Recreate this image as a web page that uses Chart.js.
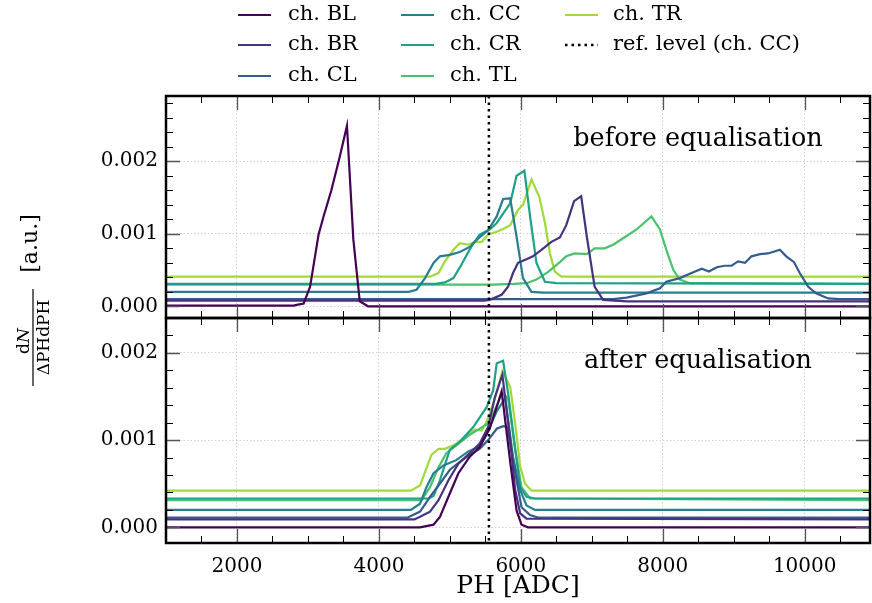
<!DOCTYPE html>
<html>
<head>
<meta charset="utf-8">
<script src="https://cdn.jsdelivr.net/npm/chart.js@4.4.1/dist/chart.umd.min.js"></script>
<style>
  html, body { margin: 0; padding: 0; background: #fff; }
</style>
</head>
<body>
<canvas id="phChart" width="872" height="603"></canvas>
<script>
// channel names, same order as the colours below
var channels = ['ch. BL', 'ch. BR', 'ch. CL', 'ch. CC', 'ch. CR', 'ch. TL', 'ch. TR'];
var refLabel = 'ref. level (ch. CC)';
var refLevel = 5550;

var xTicks = [2000, 4000, 6000, 8000, 10000];
var yTicks = [0, 0.001, 0.002];

// spectra before equalisation, [PH, dN/dPH]
var beforeBL = [[1000, 0.00001], [2800, 0.00001], [2840, 0.00002], [2940, 0.00004], [3030, 0.00027], [3150, 0.00099], [3220, 0.00124], [3330, 0.0016], [3450, 0.00207], [3550, 0.00249], [3640, 0.00092], [3730, 0.00007], [3850, 0.0], [10920, 0.0]];
var beforeBR = [[1000, 0.00008], [5480, 0.00008], [5560, 0.00009], [5730, 0.00016], [5820, 0.00027], [5890, 0.00046], [5960, 0.0006], [6080, 0.00065], [6170, 0.00069], [6290, 0.00078], [6430, 0.00089], [6550, 0.00095], [6640, 0.00112], [6750, 0.00145], [6850, 0.00152], [6930, 0.00096], [7040, 0.00027], [7160, 0.00009], [7500, 0.00007], [10920, 0.00007]];
var beforeCL = [[1000, 0.0001], [7300, 0.0001], [7490, 0.00012], [7770, 0.00018], [7960, 0.00025], [8050, 0.00034], [8240, 0.00039], [8430, 0.00047], [8550, 0.00052], [8650, 0.00048], [8760, 0.00054], [8870, 0.00056], [8970, 0.00056], [9060, 0.00062], [9160, 0.0006], [9250, 0.00069], [9370, 0.00072], [9480, 0.00073], [9550, 0.00075], [9650, 0.00078], [9740, 0.00069], [9850, 0.00061], [9930, 0.00046], [10050, 0.00027], [10160, 0.00018], [10330, 0.00011], [10490, 0.0001], [10920, 0.0001]];
var beforeCC = [[1000, 0.0002], [4420, 0.0002], [4530, 0.00023], [4650, 0.00039], [4770, 0.0006], [4860, 0.00069], [5000, 0.00071], [5140, 0.00075], [5280, 0.00082], [5380, 0.00092], [5540, 0.00105], [5660, 0.00124], [5750, 0.00148], [5850, 0.00149], [5940, 0.00096], [6030, 0.00039], [6150, 0.0002], [6320, 0.00019], [10920, 0.00019]];
var beforeCR = [[1000, 0.00031], [4800, 0.00031], [4930, 0.00033], [5050, 0.00039], [5160, 0.00057], [5300, 0.00082], [5420, 0.00099], [5560, 0.00106], [5660, 0.00115], [5850, 0.00142], [5940, 0.0018], [6050, 0.00187], [6130, 0.00124], [6220, 0.0006], [6340, 0.00034], [6500, 0.00032], [10920, 0.00031]];
var beforeTL = [[1000, 0.0003], [5600, 0.0003], [5900, 0.00031], [6080, 0.00032], [6220, 0.00037], [6390, 0.00048], [6550, 0.00061], [6640, 0.00069], [6760, 0.00073], [6930, 0.00072], [7040, 0.0008], [7180, 0.0008], [7300, 0.00085], [7490, 0.00097], [7630, 0.00106], [7840, 0.00124], [7960, 0.00106], [8050, 0.00078], [8150, 0.0005], [8240, 0.00037], [8380, 0.00032], [10920, 0.00031]];
var beforeTR = [[1000, 0.00041], [4720, 0.00041], [4840, 0.00046], [4930, 0.00062], [5050, 0.00078], [5140, 0.00087], [5260, 0.00085], [5350, 0.00089], [5450, 0.00089], [5540, 0.00099], [5660, 0.00103], [5780, 0.00108], [5850, 0.00112], [5960, 0.00133], [6030, 0.0014], [6150, 0.00175], [6260, 0.00151], [6340, 0.00115], [6410, 0.00073], [6480, 0.00048], [6570, 0.00041], [10920, 0.00041]];

// spectra after equalisation
var afterBL = [[1000, 0.0], [4580, 0.0], [4770, 0.00003], [4860, 0.00012], [5000, 0.00039], [5120, 0.00062], [5280, 0.00081], [5420, 0.00092], [5560, 0.00113], [5660, 0.00138], [5730, 0.00156], [5850, 0.00075], [5940, 0.00019], [6010, 0.00003], [6100, 0.0], [10920, 0.0]];
var afterBR = [[1000, 0.00009], [4500, 0.00009], [4580, 0.00012], [4720, 0.00018], [4840, 0.00031], [4980, 0.00054], [5120, 0.00073], [5280, 0.00085], [5420, 0.00096], [5540, 0.00115], [5630, 0.00148], [5740, 0.00175], [5850, 0.001], [5920, 0.00043], [5990, 0.00016], [6080, 0.0001], [10920, 0.00009]];
var afterCL = [[1000, 0.00011], [4400, 0.00011], [4580, 0.00018], [4720, 0.00035], [4860, 0.0005], [5000, 0.00066], [5140, 0.00075], [5280, 0.00083], [5420, 0.0009], [5540, 0.001], [5660, 0.00113], [5750, 0.00116], [5810, 0.00115], [5940, 0.00054], [6010, 0.00023], [6130, 0.00014], [6250, 0.00011], [10920, 0.00011]];
var afterCC = [[1000, 0.0002], [4450, 0.0002], [4580, 0.00027], [4670, 0.00046], [4770, 0.00062], [4910, 0.00071], [5090, 0.00077], [5260, 0.00087], [5400, 0.00092], [5540, 0.00111], [5660, 0.00133], [5780, 0.00148], [5890, 0.00081], [5990, 0.00043], [6080, 0.00025], [6200, 0.0002], [10920, 0.0002]];
var afterCR = [[1000, 0.00033], [4700, 0.00033], [4770, 0.00036], [4860, 0.00054], [5000, 0.00089], [5140, 0.00098], [5330, 0.00115], [5520, 0.00138], [5610, 0.00157], [5660, 0.00188], [5750, 0.00191], [5820, 0.00154], [5990, 0.00046], [6080, 0.00035], [6200, 0.00033], [10920, 0.00033]];
var afterTL = [[1000, 0.00031], [4600, 0.00031], [4720, 0.00046], [4840, 0.00069], [4950, 0.00085], [5090, 0.00094], [5280, 0.00106], [5540, 0.00119], [5630, 0.00134], [5740, 0.00154], [5820, 0.00148], [5920, 0.00089], [6010, 0.00046], [6130, 0.00033], [10920, 0.00031]];
var afterTR = [[1000, 0.00042], [4450, 0.00042], [4580, 0.00048], [4740, 0.00083], [4840, 0.0009], [4930, 0.0009], [5050, 0.00094], [5190, 0.00102], [5350, 0.00112], [5450, 0.00111], [5540, 0.00125], [5630, 0.00146], [5740, 0.00179], [5850, 0.00161], [5920, 0.00119], [5990, 0.0007], [6060, 0.0005], [6150, 0.00042], [10920, 0.00042]];

var beforeSets = [beforeBL, beforeBR, beforeCL, beforeCC, beforeCR, beforeTL, beforeTR];
var afterSets = [afterBL, afterBR, afterCL, afterCC, afterCR, afterTL, afterTR];

// viridis, 8 steps, last one unused
var colors = ['#440154', '#46327e', '#365c8d', '#277f8e', '#1fa187', '#4ac16d', '#a0da39'];

var serif = "'DejaVu Serif', 'Liberation Serif', serif";

function toPoints(arr) {
  return arr.map(function (p) { return { x: p[0], y: p[1] }; });
}

var datasets = [];
beforeSets.forEach(function (arr, i) {
  datasets.push({
    label: channels[i], data: toPoints(arr), yAxisID: 'yTop',
    borderColor: colors[i], borderWidth: 2.2, pointRadius: 0, tension: 0, fill: false
  });
});
afterSets.forEach(function (arr, i) {
  datasets.push({
    label: channels[i], data: toPoints(arr), yAxisID: 'yBot',
    borderColor: colors[i], borderWidth: 2.2, pointRadius: 0, tension: 0, fill: false
  });
});

function yAxis(lo, hi, weight) {
  return {
    type: 'linear', position: 'left', stack: 'panels', stackWeight: weight,
    min: lo, max: hi,
    afterBuildTicks: function (s) { s.ticks = yTicks.map(function (v) { return { value: v }; }); },
    afterFit: function (s) { s.width = 166; },
    grid: { color: '#c4c4c4', lineWidth: 0.8, drawTicks: false },
    border: { display: false, dash: [1.5, 2] },
    ticks: {
      color: '#000', padding: 8, font: { family: serif, size: 20 },
      callback: function (v) { return Math.abs(v).toFixed(3); }
    }
  };
}

// dotted reference line, over the curves
var refLinePlugin = {
  id: 'refLine',
  afterDatasetsDraw: function (chart) {
    var ctx = chart.ctx, a = chart.chartArea;
    var px = chart.scales.x.getPixelForValue(refLevel);
    ctx.save();
    ctx.strokeStyle = '#000';
    ctx.lineWidth = 2.5;
    ctx.setLineDash([2.5, 4]);
    ctx.beginPath();
    ctx.moveTo(px, a.top);
    ctx.lineTo(px, a.bottom);
    ctx.stroke();
    ctx.restore();
  }
};

// frames with inward ticks, legend, axis titles, panel notes
var decorPlugin = {
  id: 'decor',
  afterDraw: function (chart) {
    var ctx = chart.ctx, a = chart.chartArea, xs = chart.scales.x;
    ctx.save();

    ['yTop', 'yBot'].forEach(function (id) {
      var ys = chart.scales[id];
      var top = ys.top, bot = ys.bottom;
      var v, px, major, len;
      // x ticks every 500
      for (v = 1000; v <= xs.max; v += 500) {
        px = Math.round(xs.getPixelForValue(v)) + 0.5;
        major = v % 2000 === 0;
        len = major ? 14 : 7;
        ctx.strokeStyle = major ? '#555' : '#000';
        ctx.lineWidth = major ? 1.3 : 1;
        ctx.beginPath();
        ctx.moveTo(px, bot); ctx.lineTo(px, bot - len);
        ctx.moveTo(px, top); ctx.lineTo(px, top + len);
        ctx.stroke();
      }
      // y ticks every 0.0002
      var k0 = Math.ceil(ys.min / 0.0002), k1 = Math.floor(ys.max / 0.0002);
      for (var k = k0; k <= k1; k++) {
        v = k * 0.0002;
        px = Math.round(ys.getPixelForValue(v)) + 0.5;
        major = k % 5 === 0;
        len = major ? 14 : 7;
        ctx.strokeStyle = major ? '#555' : '#000';
        ctx.lineWidth = major ? 1.3 : 1;
        ctx.beginPath();
        ctx.moveTo(a.left, px); ctx.lineTo(a.left + len, px);
        ctx.moveTo(a.right, px); ctx.lineTo(a.right - len, px);
        ctx.stroke();
      }
      ctx.strokeStyle = '#000';
      ctx.lineWidth = 2.5;
      ctx.strokeRect(a.left, top, a.right - a.left, bot - top);
    });

    // panel notes
    ctx.fillStyle = '#000';
    ctx.font = '25.5px ' + serif;
    ctx.textAlign = 'center';
    ctx.textBaseline = 'middle';
    ctx.fillText('before equalisation', 698, 139);
    ctx.fillText('after equalisation', 698, 361);

    // x title
    ctx.font = '25px ' + serif;
    ctx.fillText('PH [ADC]', (a.left + a.right) / 2, 586);

    // y title, rotated; local x runs up the page, local y to the right
    ctx.save();
    ctx.rotate(-Math.PI / 2);
    ctx.textBaseline = 'alphabetic';
    ctx.textAlign = 'center';
    ctx.font = '22px ' + serif;
    ctx.fillText('[a.u.]', -243.5, 37);
    ctx.font = '17px ' + serif;
    var numW1 = ctx.measureText('d').width;
    ctx.font = 'italic 17px ' + serif;
    var numW2 = ctx.measureText('N').width;
    var nx = -341 - (numW1 + numW2) / 2;
    ctx.textAlign = 'left';
    ctx.font = '17px ' + serif;
    ctx.fillText('d', nx, 29);
    ctx.font = 'italic 17px ' + serif;
    ctx.fillText('N', nx + numW1, 29);
    ctx.textAlign = 'center';
    ctx.font = '17px ' + serif;
    ctx.fillText('\u0394PHdPH', -337.5, 49);
    ctx.lineWidth = 1.2;
    ctx.strokeStyle = '#000';
    ctx.beginPath();
    ctx.moveTo(-386, 33);
    ctx.lineTo(-289, 33);
    ctx.stroke();
    ctx.restore();

    // legend, three columns filled top to bottom
    var lineX = [238, 401, 565], textX = [288, 450, 613], rowY = [15, 45, 76];
    var items = channels.map(function (c, i) { return { label: c, color: colors[i], dotted: false }; });
    items.push({ label: refLabel, color: '#000', dotted: true });
    ctx.font = '21px ' + serif;
    ctx.textAlign = 'left';
    ctx.textBaseline = 'middle';
    items.forEach(function (it, i) {
      var col = Math.floor(i / 3), row = i % 3;
      var y = rowY[row];
      ctx.strokeStyle = it.color;
      ctx.lineWidth = it.dotted ? 2.5 : 2.2;
      ctx.setLineDash(it.dotted ? [2.5, 4] : []);
      ctx.beginPath();
      ctx.moveTo(lineX[col], y);
      ctx.lineTo(lineX[col] + 33, y);
      ctx.stroke();
      ctx.setLineDash([]);
      ctx.fillStyle = '#000';
      ctx.fillText(it.label, textX[col], y);
    });

    ctx.restore();
  }
};

new Chart(document.getElementById('phChart').getContext('2d'), {
  type: 'line',
  data: { datasets: datasets },
  options: {
    responsive: false,
    animation: false,
    devicePixelRatio: 1,
    layout: { padding: { top: 96, right: 2, left: 0, bottom: 0 } },
    plugins: { legend: { display: false }, tooltip: { enabled: false } },
    scales: {
      x: {
        type: 'linear', min: 1000, max: 10920,
        afterBuildTicks: function (s) { s.ticks = xTicks.map(function (v) { return { value: v }; }); },
        afterFit: function (s) { s.height = 60; },
        grid: { color: '#c4c4c4', lineWidth: 0.8, drawTicks: false },
        border: { display: false, dash: [1.5, 2] },
        ticks: {
          color: '#000', padding: 12, maxRotation: 0, autoSkip: false,
          font: { family: serif, size: 20 },
          callback: function (v) { return String(v); }
        }
      },
      yBot: yAxis(-0.00018, 0.0024, 225),
      yTop: yAxis(-0.00016, 0.0029, 222)
    }
  },
  plugins: [refLinePlugin, decorPlugin]
});
</script>
</body>
</html>
